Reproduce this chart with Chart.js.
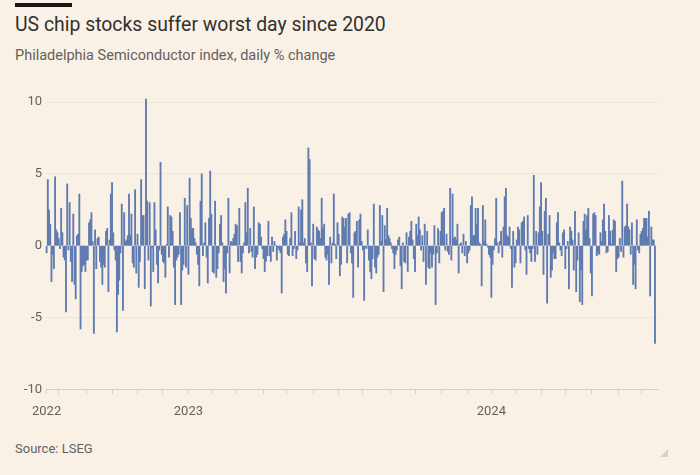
<!DOCTYPE html>
<html lang="en">
<head>
    <meta charset="UTF-8">
    <title>US chip stocks suffer worst day since 2020</title>
    <style>
        body {
            margin: 0;
            width: 700px;
            height: 475px;
            background-color: #faf1e6;
            font-family: Roboto, Arial, sans-serif;
            position: relative;
            overflow: hidden;
        }
        .bar-top {
            position: absolute;
            left: 15px;
            top: 3px;
            width: 57px;
            height: 4px;
            background-color: #1a1817;
        }
        .title {
            position: absolute;
            left: 15px;
            top: 13px;
            font-size: 19.4px;
            line-height: 24px;
            color: #33302e;
            white-space: nowrap;
        }
        .subtitle {
            position: absolute;
            left: 15px;
            top: 47px;
            font-size: 14.5px;
            line-height: 18px;
            color: #66605c;
            white-space: nowrap;
        }
        .source {
            position: absolute;
            left: 15px;
            top: 441px;
            font-size: 13px;
            line-height: 16px;
            color: #66605c;
        }
        .corner {
            position: absolute;
            left: 660px;
            top: 449px;
            width: 0;
            height: 0;
            border-left: 8px solid transparent;
            border-bottom: 8px solid #d8d0c8;
        }
        .chart-box {
            position: absolute;
            left: 0;
            top: 90px;
            width: 700px;
            height: 340px;
        }
    </style>
</head>
<body>
    <div class="bar-top"></div>
    <div class="title">US chip stocks suffer worst day since 2020</div>
    <div class="subtitle">Philadelphia Semiconductor index, daily % change</div>
    <div class="chart-box"><canvas id="chipChart"></canvas></div>
    <div class="source">Source: LSEG</div>
    <div class="corner"></div>

    <script src="https://cdn.jsdelivr.net/npm/chart.js"></script>
    <script>
        // daily % change, trading days 18 Jul 2022 -> 17 Jul 2024
        const change2022 = [
            -0.5, 4.6, 2.5, 1.5, -2.5, -0.6, -1.6, 4.8, 1.1, 0.9,
            0.5, -0.2, 2.6, 0.9, -0.8, -1.0, -4.6, 4.3, -0.3, 3.0,
            -1.1, -2.5, 2.2, -2.7, -3.7, 0.7, 0.8, 3.6, -5.8, -1.8,
            -1.4, -1.3, -1.8, -1.0, -1.0, 1.6, 1.8, 2.3, 0.3, -6.1,
            1.1, -1.6, 0.5, 0.6, -1.1, -1.5, -2.7, -1.3, -1.5, 1.0,
            1.2, -3.2, 0.4, 3.6, 4.4, 0.9, -0.3, -1.0, -6.0, -3.4,
            -2.4, -0.5, 2.9, -4.5, 2.3, 0.3, 0.4, 0.7, 3.6, 0.7,
            2.2, -1.2, -1.5, 3.9, -1.9, 0.8, -2.9, -1.1, 4.6, 2.1,
            2.1, -3.0, 10.2, 3.1, -1.0, 3.0, -4.2, -0.1, -1.8, 3.0,
            1.1, -1.3, -2.6, -0.3, 5.8, -0.6, -1.1, -1.2, -2.2, 0.1,
            2.7, -0.8, 2.1, 2.0, 1.0, -1.5, -4.1, -1.0, -0.8, -0.6,
            2.3, -4.1, -1.7, -1.3, 3.3, -1.5, 2.8, -2.0
        ];
        const changeH1_2023 = [
            4.7, 1.9, 1.2, 1.2, 0.5, 0.2, -0.6, -1.3, -2.8, 3.1,
            5.0, -0.7, 0.2, 1.6, -0.8, -2.6, 1.9, 5.2, 2.2, -1.8,
            -1.9, 3.1, -2.2, -1.6, -0.5, 1.5, 2.1, 0.2, -2.5, -1.6,
            -3.3, -0.5, 3.3, -1.9, 0.3, 0.2, 0.5, 0.8, 1.5, 1.4,
            -1.1, 2.6, -1.1, -1.9, -0.5, 0.2, 3.0, 0.9, 4.0, -0.5,
            1.2, -0.4, -0.8, 2.7, -1.6, -0.8, -0.6, 1.6, 1.5, 0.6,
            -0.2, -0.9, -1.8, -1.1, -0.7, 1.7, -0.7, -1.1, 0.6, -0.4,
            0.3, 0.0, -1.0, -0.1, -0.3, -0.5, -3.3, 0.6, 0.8, 1.8,
            1.0, -0.6, -0.7, 0.5, 2.3, -0.7, -0.2, 1.0, -0.9, -0.3,
            2.7, 0.2, 2.5, 3.2, 0.2, 0.5, -1.2, -1.8, 6.8, 6.0,
            0.2
        ];
        const changeH2_2023 = [
            -2.8, 1.5, -0.9, -1.0, 1.3, 1.1, 1.0, 0.5, 3.3, 1.2,
            1.5, -0.8, -1.0, -0.6, -2.7, 0.6, -1.2, 0.2, 3.6, 0.1,
            -0.9, 1.6, 0.8, -2.1, -1.3, 2.0, 1.9, 1.3, 1.9, -1.2,
            2.2, 2.3, -0.5, -1.2, -3.6, 0.9, 1.0, 1.7, -1.5, 1.8,
            2.2, 0.3, -0.3, -3.8, -0.1, -0.2, 1.1, -1.0, -1.8, -2.3,
            -0.9, 2.9, -1.5, -1.9, -0.8, -0.6, 2.8, 0.3, 2.1, -3.2,
            1.4, 0.4, 2.6, 0.7, 0.5, 0.2, -0.2, -0.5, -1.6, -0.6,
            -0.3, 0.4, 0.6, -1.4, -3.0, 0.2, -1.1, -1.2, 0.9, -1.8,
            0.6, 1.0, 1.7, 0.4, -0.9, -1.8, 1.5, 0.7, 2.0, 1.1,
            -0.3, 0.7, -1.1, 1.5, -2.7, 1.0, -1.5, -1.6, -0.5
        ];
        const changeLate2023 = [
            -1.5, -0.6, 1.4, -4.1, -0.5, 1.2, -1.2, 1.0, 2.3, 2.4,
            2.6, -0.3, 0.8, -0.4, -0.6, 4.0, -1.0, 3.6, 0.5, 0.6,
            0.4, 1.5, -1.9, 0.1, 0.2, -0.5, 0.8, -0.7, 0.3, -1.2,
            -0.5, -0.3, 2.8, 3.4, 0.7, 0.7, 2.6, 1.5, 2.6, 0.2,
            0.1, -2.8, 2.8, 0.3, 1.8, 0.1, -0.1, -0.6, -0.8, -3.6,
            -1.3, -0.3, 0.5, 3.3, 0.2, -0.5, 0.3, 1.0, -0.8, 1.3,
            3.4, 4.0, 0.7, 0.6, 1.3, -0.2, -2.9, 1.0, -1.5, -1.2,
            0.4, 1.3, 1.1, -1.2, 1.6, 1.7, 2.0, -0.3, -2.0, 2.1,
            -0.2, -0.5, -1.1, -0.2, 4.9, -1.1, 1.0, -0.6, 0.9, 2.7,
            4.4, 1.0, -2.0, 2.4, 3.3, -4.0, 0.8, 2.1, -2.2
        ];
        const change2024 = [
            -1.7, -0.5, -0.9, -0.9, 1.6, 2.3, 0.2, -0.3, -0.7, 0.9,
            1.1, -1.6, -0.2, 0.3, -3.0, 1.3, 1.0, 0.4, -1.7, 2.4,
            -3.2, -1.0, 0.9, -3.9, -1.7, -4.1, 1.7, 2.2, 1.1, 2.1,
            2.6, 0.5, -1.9, -3.5, 2.2, 2.3, 2.1, -0.7, -0.5, -0.6,
            0.9, 0.3, 1.8, 2.9, 1.0, -0.5, -0.4, 2.1, 1.0, 0.1,
            1.1, 1.8, 1.7, -1.8, -0.9, -0.8, 0.5, -0.4, 4.5, -0.8,
            1.3, 1.4, 2.9, 1.3, 1.1, -0.6, 1.6, -2.7, -1.3, -3.0,
            1.8, -0.3, -0.5, 0.8, 1.0, 1.2, 1.9, 1.9, 1.9, 0.6,
            2.4, -3.5, 1.3, 0.4, 0.4, -6.8
        ];
        const dailyChange = [].concat(change2022, changeH1_2023, changeH2_2023, changeLate2023, change2024);

        // trading-day index of the first session of each month (Aug 2022 .. Jul 2024)
        const monthStarts = [0, 10, 33, 54, 75, 96, 117, 137, 156, 179, 198, 220, 241,
                             261, 284, 304, 326, 347, 367, 388, 408, 428, 450, 472, 491];
        const yearLabels = { 0: '2022', 117: '2023', 367: '2024' };
        const yTicks = [-10, -5, 0, 5, 10];

        const points = dailyChange.map((v, i) => ({ x: i, y: v }));

        const ctx = document.getElementById('chipChart').getContext('2d');
        new Chart(ctx, {
            type: 'bar',
            data: {
                datasets: [{
                    data: points,
                    backgroundColor: '#5f7bb0',
                    borderWidth: 0,
                    barPercentage: 1,
                    categoryPercentage: 1,
                    clip: false
                }]
            },
            options: {
                responsive: true,
                maintainAspectRatio: false,
                animation: false,
                layout: {
                    padding: { top: 12, right: 42, bottom: 0, left: 0 }
                },
                plugins: {
                    legend: { display: false },
                    tooltip: { enabled: false }
                },
                scales: {
                    x: {
                        type: 'linear',
                        offset: false,
                        min: -0.5,
                        max: 504.5,
                        afterBuildTicks: function(axis) {
                            axis.ticks = monthStarts.map(v => ({ value: v }));
                        },
                        afterFit: function(axis) {
                            // the first year label may hang left of the plot, as in the original
                            axis.paddingLeft = 0;
                            axis.paddingRight = 0;
                        },
                        ticks: {
                            autoSkip: false,
                            maxRotation: 0,
                            padding: 10,
                            color: '#66605c',
                            font: { family: 'Roboto', size: 13 },
                            callback: function(value) {
                                return yearLabels[value] || '';
                            }
                        },
                        grid: {
                            offset: false,
                            drawOnChartArea: false,
                            drawTicks: true,
                            tickLength: 5,
                            color: '#d9cfc5'
                        },
                        border: { display: true, color: '#d9cfc5' }
                    },
                    y: {
                        min: -10,
                        max: 10,
                        afterBuildTicks: function(axis) {
                            axis.ticks = yTicks.map(v => ({ value: v }));
                        },
                        afterFit: function(axis) {
                            axis.width = 46;
                        },
                        ticks: {
                            padding: 4,
                            color: '#66605c',
                            font: { family: 'Roboto', size: 13 }
                        },
                        grid: {
                            color: '#efe5dc',
                            drawTicks: false
                        },
                        border: { display: false }
                    }
                }
            }
        });
    </script>
</body>
</html>
